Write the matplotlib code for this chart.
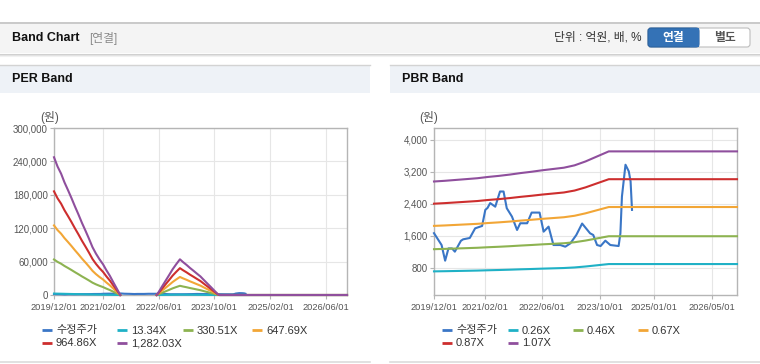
import numpy as np
import pandas as pd
import matplotlib
matplotlib.use('Agg')
import matplotlib.pyplot as plt
from matplotlib.patches import Rectangle, FancyBboxPatch
from matplotlib.ticker import FuncFormatter

plt.rcParams['font.family'] = ['Liberation Sans', 'Noto Sans CJK KR']

# %% data
price_dates = ['2019-12-01', '2020-02-03', '2020-03-04', '2020-04-01', '2020-05-01',
               '2020-05-25', '2020-07-15', '2020-08-03', '2020-09-28', '2020-11-12',
               '2021-01-10', '2021-02-06', '2021-02-25', '2021-03-19', '2021-05-01',
               '2021-06-10', '2021-07-10', '2021-08-06', '2021-09-19', '2021-11-01',
               '2021-11-28', '2022-01-25', '2022-03-04', '2022-05-10', '2022-06-13',
               '2022-07-25', '2022-09-04', '2022-11-01', '2022-12-13', '2023-01-25',
               '2023-03-16', '2023-05-04', '2023-07-10', '2023-08-06', '2023-09-07',
               '2023-10-07', '2023-11-16', '2023-12-28', '2024-03-07', '2024-03-22',
               '2024-04-04', '2024-05-04', '2024-06-01', '2024-06-16', '2024-06-28']
price = [1670, 1375, 985, 1290, 1290,
         1210, 1480, 1517, 1550, 1790,
         1850, 2250, 2300, 2420, 2330,
         2708, 2708, 2292, 2083, 1750,
         1917, 1917, 2183, 2183, 1708,
         1833, 1375, 1375, 1333, 1417,
         1625, 1910, 1667, 1625, 1375,
         1350, 1483, 1375, 1350, 1667,
         2583, 3375, 3208, 2958, 2250]

# EPS basis of the PER band (NaN = no band)
eps_dates = ['2019-12-01', '2020-01-01', '2020-02-01', '2020-03-01', '2020-04-01',
             '2020-05-01', '2020-06-01', '2020-07-01', '2020-08-01', '2020-09-01',
             '2020-10-01', '2020-11-01', '2020-12-01', '2021-01-01', '2021-02-01',
             '2021-03-01', '2021-04-01', '2021-05-01', '2021-06-01', '2021-07-01',
             '2021-12-01',
             '2022-05-15', '2022-06-01', '2022-07-01', '2022-08-01', '2022-09-01',
             '2022-10-01', '2022-11-01', '2022-12-04', '2023-01-01', '2023-02-01',
             '2023-03-01', '2023-04-01', '2023-05-01', '2023-06-01', '2023-07-01',
             '2023-08-01', '2023-09-01', '2023-10-01', '2023-11-01', '2023-11-15',
             '2026-12-01']
eps = [193, 180, 170, 158, 147,
       136, 124, 113, 101, 90,
       79, 67, 58, 50, 43,
       35, 27, 18, 9, 0,
       np.nan,
       0, 4, 12, 20, 28,
       36, 43, 50, 46, 42,
       38, 34, 30, 26, 21,
       16, 11, 6, 1, 0,
       0]
per_mult = [13.34, 330.51, 647.69, 964.86, 1282.03]
per_labels = ['13.34X', '330.51X', '647.69X', '964.86X', '1,282.03X']

# BPS basis of the PBR band
bps_dates = ['2019-12-01', '2020-03-01', '2020-06-01', '2020-09-01', '2020-12-01',
             '2021-03-01', '2021-06-01', '2021-09-01', '2021-12-01', '2022-03-01',
             '2022-06-01', '2022-09-01', '2022-12-01', '2023-03-01', '2023-06-01',
             '2023-09-01', '2023-12-15', '2026-12-01']
bps = [2764, 2780, 2800, 2820, 2840,
       2870, 2895, 2925, 2960, 2990,
       3025, 3055, 3085, 3140, 3230,
       3340, 3465, 3465]
pbr_mult = [0.26, 0.46, 0.67, 0.87, 1.07]
pbr_labels = ['0.26X', '0.46X', '0.67X', '0.87X', '1.07X']

price_label = '수정주가'
per_xticks = ['2019/12/01', '2021/02/01', '2022/06/01', '2023/10/01', '2025/02/01', '2026/06/01']
pbr_xticks = ['2019/12/01', '2021/02/01', '2022/06/01', '2023/10/01', '2025/01/01', '2026/05/01']
per_yticks = [0, 60000, 120000, 180000, 240000, 300000]
pbr_yticks = [800, 1600, 2400, 3200, 4000]

price_color = '#3a76c6'
band_colors = ['#1fb1c6', '#8db351', '#f2a636', '#cd2e2e', '#8f4f9d']

# %% page chrome, drawn in pixel coordinates
fig = plt.figure(figsize=(7.6, 3.64), dpi=100)
bg = fig.add_axes([0, 0, 1, 1])
bg.set_xlim(0, 760)
bg.set_ylim(364, 0)
bg.axis('off')

bg.add_patch(Rectangle((0, 22), 760, 31, fc='#f4f4f4', ec='none'))
bg.plot([0, 760], [22.5, 22.5], color='#c2c2c2', lw=1.2)
for yy, cc in zip([53.5, 54.5, 55.5], ['#cfcfcf', '#e2e2e2', '#f1f1f1']):
    bg.plot([0, 760], [yy, yy], color=cc, lw=0.8)
bg.text(12, 38, 'Band Chart', fontsize=9, fontweight='bold', color='#111111', va='center')
bg.text(89, 38.5, '[연결]', fontsize=8.5, color='#8a8a8a', va='center')
bg.text(641, 38, '단위 : 억원, 배, %', fontsize=8.5, color='#333333', va='center', ha='right')

bg.add_patch(FancyBboxPatch((648, 28), 102, 19, boxstyle='round,pad=0,rounding_size=3',
                            fc='white', ec='#bdbdbd', lw=0.8))
bg.add_patch(FancyBboxPatch((648, 28), 51, 19, boxstyle='round,pad=0,rounding_size=3',
                            fc='#3472b6', ec='#2b62a0', lw=0.8))
bg.add_patch(Rectangle((690, 28.4), 9, 18.2, fc='#3472b6', ec='none'))
bg.text(673.5, 38, '연결', fontsize=8.5, fontweight='bold', color='white', ha='center', va='center')
bg.text(724.5, 38, '별도', fontsize=8.5, fontweight='bold', color='#555555', ha='center', va='center')

for x0, x1, title in [(0, 370, 'PER Band'), (390, 760, 'PBR Band')]:
    bg.add_patch(Rectangle((x0, 64.5), x1 - x0, 28.5, fc='#eef2f7', ec='none'))
    bg.plot([x0, x1], [64.5, 64.5], color='#d3d3d3', lw=1)
    bg.plot([x0, x1], [362, 362], color='#dcdcdc', lw=1.2)
    bg.text(x0 + 12, 79.5, title, fontsize=9, fontweight='bold', color='#111111', va='center')


# %% charts
def band_panel(left, width, base_dates, base, mult, labels, xticks, yticks, ylim, unit_x, leg_cols):
    ax = fig.add_axes([left, 69 / 364, width, 167 / 364])
    ax.set_facecolor('none')
    px = pd.to_datetime(price_dates)
    ax.plot(px, price, color=price_color, lw=1.5, clip_on=False, zorder=3)
    bx = pd.to_datetime(base_dates)
    for m, c in zip(mult, band_colors):
        ax.plot(bx, np.array(base, dtype=float) * m, color=c, lw=1.5, clip_on=False, zorder=3)

    ax.set_xlim(pd.Timestamp('2019-12-01'), pd.Timestamp('2026-12-01'))
    ax.set_ylim(*ylim)
    ax.set_xticks(pd.to_datetime(xticks, format='%Y/%m/%d'))
    ax.set_xticklabels(xticks)
    ax.set_yticks(yticks)
    ax.yaxis.set_major_formatter(FuncFormatter(lambda v, p: '{:,.0f}'.format(v)))
    ax.grid(True, color='#e6e6e6', lw=0.8)
    ax.set_axisbelow(True)
    for s in ax.spines.values():
        s.set_color('#b5b5b5')
        s.set_linewidth(1)
    ax.tick_params(axis='both', length=3, width=0.8, color='#b5b5b5', labelcolor='#555555')
    ax.tick_params(axis='x', labelsize=6.7, pad=2.5)
    ax.tick_params(axis='y', labelsize=7, pad=1.5)
    bg.text(unit_x, 118, '(원)', fontsize=8.5, color='#555555', ha='center', va='center')

    # legend laid out on a fixed grid, 4 items per row
    names = [price_label] + labels
    cols = [price_color] + band_colors
    for i, (n, c) in enumerate(zip(names, cols)):
        lx = leg_cols[i % 4]
        ly = 330 + 13 * (i // 4)
        bg.plot([lx, lx + 10], [ly, ly], color=c, lw=2, solid_capstyle='butt')
        bg.text(lx + 14, ly + 0.5, n, fontsize=8, color='#333333', va='center')
    return ax


band_panel(54 / 760, 293 / 760, eps_dates, eps, per_mult, per_labels,
           per_xticks, per_yticks, (0, 300000), 50, [42, 117, 183, 252])
band_panel(434 / 760, 303 / 760, bps_dates, bps, pbr_mult, pbr_labels,
           pbr_xticks, pbr_yticks, (130, 4290), 429, [442, 508, 573, 638])

fig.savefig('out.png', dpi=100)
